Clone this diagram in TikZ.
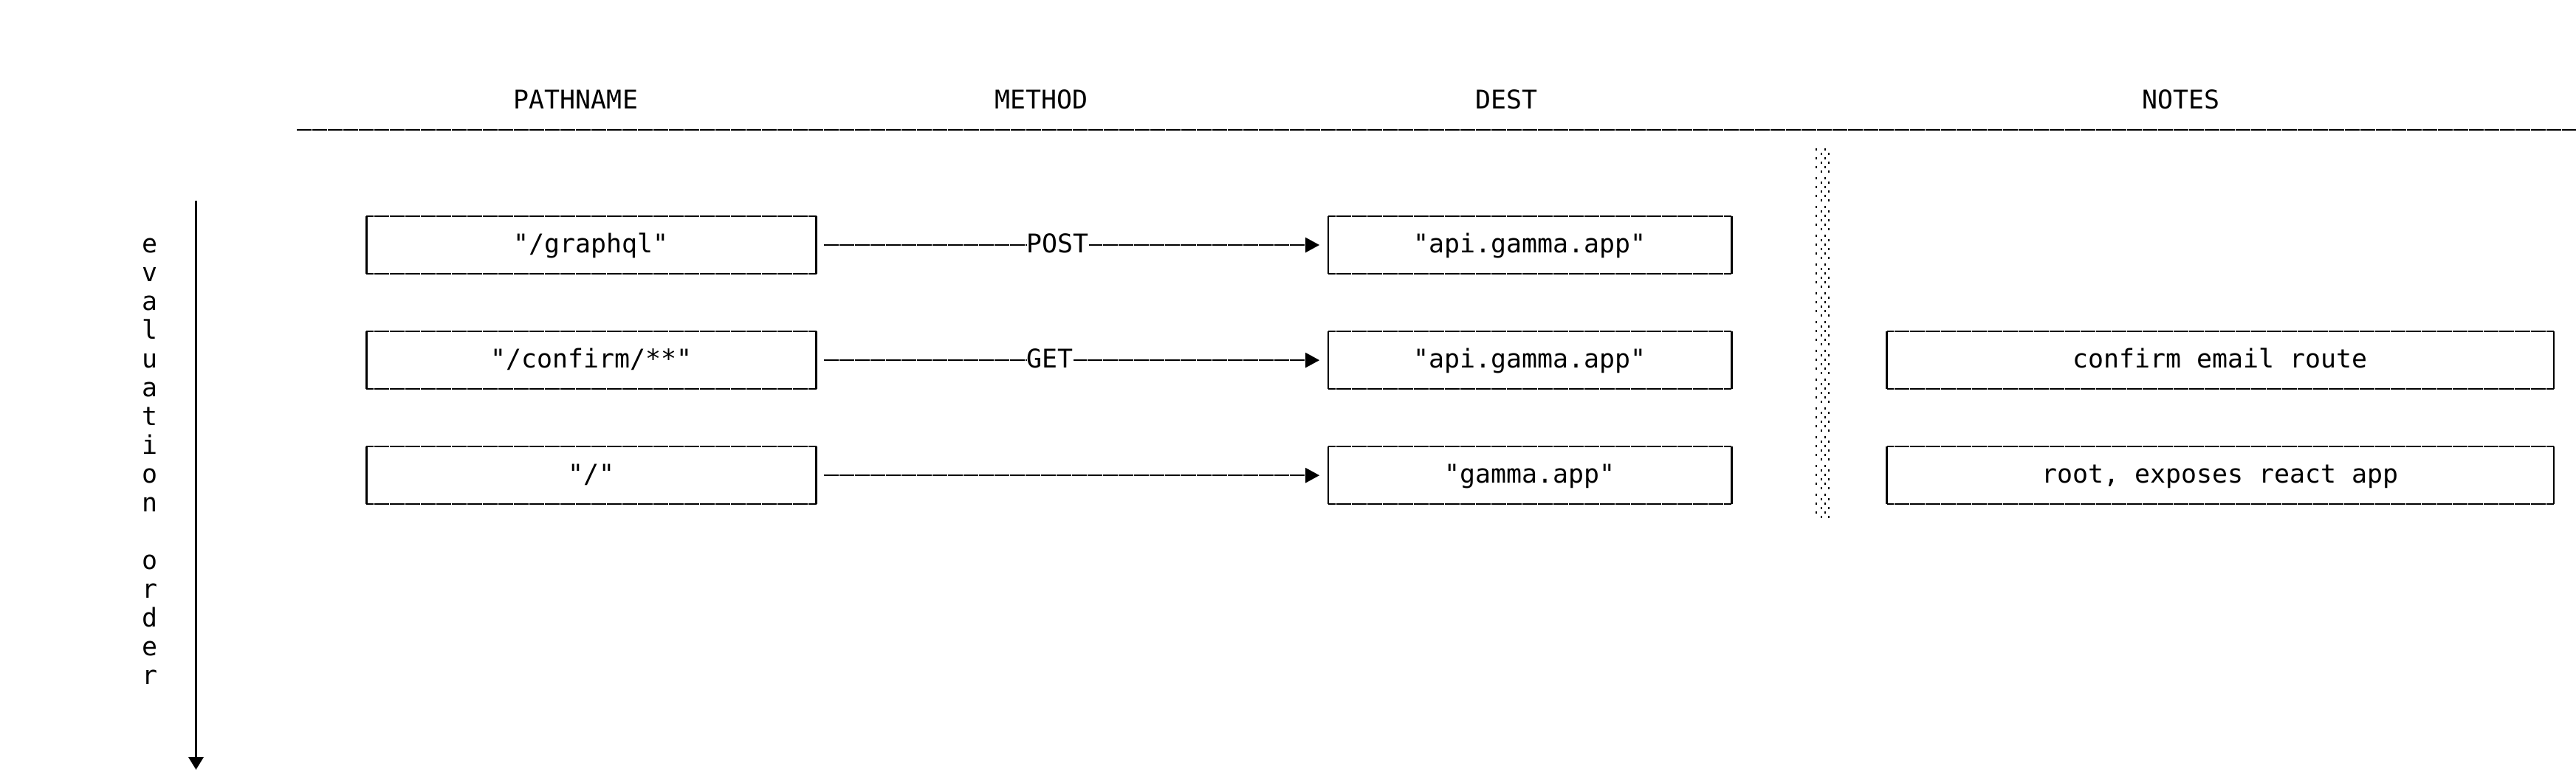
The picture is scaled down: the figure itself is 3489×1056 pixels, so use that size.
\documentclass[tikz,border=0pt]{standalone}
\usepackage{fontspec}
\setmonofont{DejaVu Sans Mono}
\usetikzlibrary{positioning,arrows.meta}

\begin{document}
\begin{tikzpicture}[x=0.01cm,y=-0.01cm,node distance=0.78cm,
	font=\ttfamily\fontsize{9.92pt}{11pt}\selectfont,
	line width=0.7pt,
	rule/.style={dash pattern=on 0.2cm off 0.01cm},
	route/.style={minimum height=0.78cm,inner sep=0pt,outer sep=0pt,text height=7.2pt,text depth=1.4pt},
	pathbox/.style={route,minimum width=6.09cm},
	destbox/.style={route,minimum width=5.46cm},
	notebox/.style={route,minimum width=9.03cm},
	verb/.style={fill=white,inner xsep=0pt,inner ysep=2pt,text height=7.2pt,text depth=1.4pt,anchor=west,pos=0.409},
	todest/.style={rule,-{Triangle[length=5.4pt,width=5.7pt]},shorten <=3pt,shorten >=3.4pt}]
	\useasboundingbox (0,0) rectangle (3489,1056);
	
	% column heads and the rule under them
	\node[anchor=base] (pathname) at (780,147) {PATHNAME};
	\node[anchor=base] (method) at (1410,147) {METHOD};
	\node[anchor=base] (dest) at (2040,147) {DEST};
	\node[anchor=base] (notes) at (2953.5,147) {NOTES};
	\coordinate (rule west) at (402,176);
	\coordinate (rule east) at (3489,176);
	\draw[rule] (rule west) -- (rule east);
	
	% routes, top to bottom
	\node[pathbox] (p1) at (801,332) {"/graphql"};
	\node[pathbox] (p2) [below = of p1] {"/confirm/**"\ };
	\node[pathbox] (p3) [below = of p2] {"/"\ };
	\node[destbox] (d1) [right = 6.93cm of p1] {"api.gamma.app"};
	\node[destbox] (d2) [below = of d1] {"api.gamma.app"};
	\node[destbox] (d3) [below = of d2] {"gamma.app"};
	\node[notebox] (n2) [right = 2.1cm of d2] {confirm email route\ };
	\node[notebox] (n3) [below = of n2] {root, exposes react app\ };
	
	\foreach \b in {p1,p2,p3,d1,d2,d3,n2,n3}{
		\draw (\b.north west) -- (\b.south west) (\b.north east) -- (\b.south east);
		\draw[rule,dash phase=0.105cm] (\b.north west) -- (\b.north east) (\b.south west) -- (\b.south east);
	}
	
	\draw[todest] (p1) -- node[verb] (post) {POST} (d1);
	\draw[todest] (p2) -- node[verb] (get) {GET} (d2);
	\draw[todest] (p3) -- (d3);
	
	% shaded divider before the notes
	\foreach \c in {0,...,12}
	\foreach \r in {0,...,5}{
		\pgfmathsetmacro\dy{200.5+39*\c+6*\r}
		\fill ({2459+6.7*mod(\r,2)},\dy) rectangle ++(2,3);
		\fill ({2470.5+5.3*mod(\r,2)},\dy) rectangle ++(2,3);
	}
	
	% evaluation order
	\foreach \ch/\k in {e/0,v/1,a/2,l/3,u/4,a/5,t/6,i/7,o/8,n/9,o/11,r/12,d/13,e/14,r/15}
	\node[anchor=base] (order\k) at (202.5,{342.5+39*\k}) {\ch};
	\coordinate (order top) at (265.5,271.5);
	\coordinate (order end) at (265.5,1043);
	\draw[-{Triangle[length=0.1pt,width=0.1pt,sep=3.1pt,white]Triangle[length=4.8pt,width=5.7pt]}] (order top) -- (order end);
	
\end{tikzpicture}
\end{document}
